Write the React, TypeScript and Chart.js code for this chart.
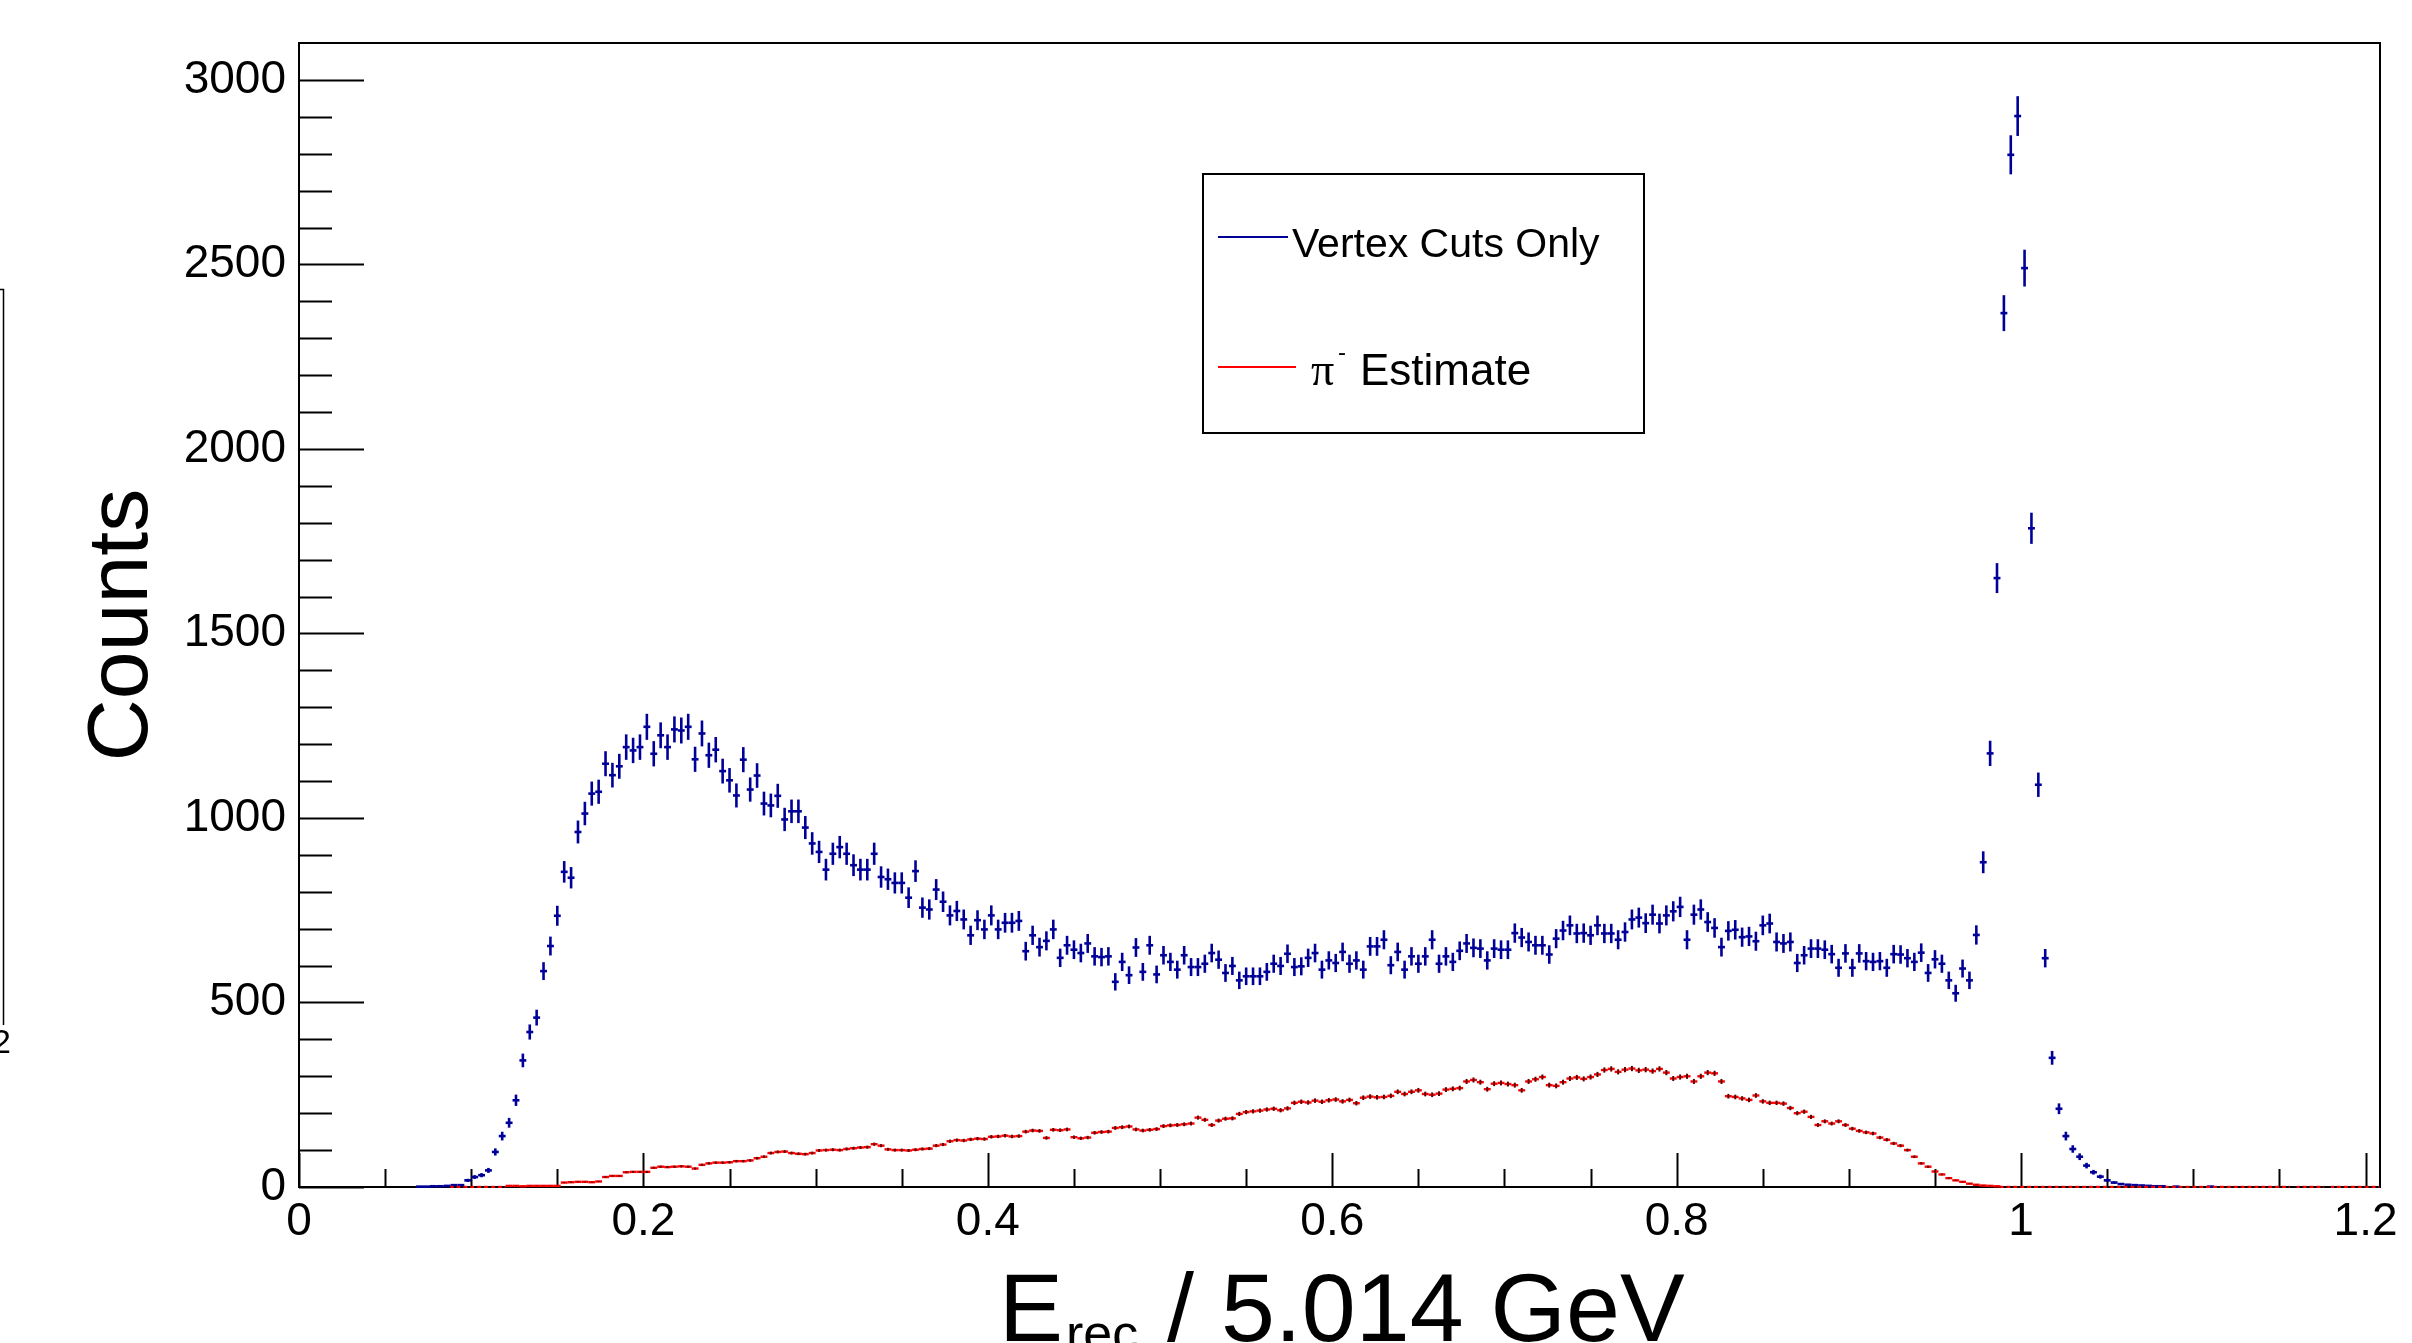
import React, { useEffect, useRef } from "react";
import { Chart, registerables } from "chart.js";

Chart.register(...registerables);

// ---------------- data ----------------
const BIN_WIDTH = 0.004;

// "Vertex Cuts Only" counts, bins starting at bin index 17 (x = 0.068)
const BLUE_FIRST_BIN = 17;
const BLUE_COUNTS: (number | null)[] = [
  1, 1, 2, 2, 3, 5, 5, 18, 27, 32, 45, 95, 138, 174, 235, 343, 420, 459, 585, 653,
  735, 854, 838, 962, 1012, 1066, 1071, 1147, 1116, 1140, 1192, 1183, 1192, 1247, 1174, 1224, 1192, 1240, 1237, 1247,
  1159, 1229, 1170, 1185, 1127, 1102, 1061, 1158, 1077, 1115, 1039, 1034, 1060, 996, 1018, 1018, 974, 931, 908, 860,
  903, 921, 903, 872, 860, 860, 903, 840, 834, 824, 824, 784, 856, 757, 752, 806, 773, 736, 748, 725,
  682, 723, 698, 736, 698, 716, 716, 721, 639, 682, 650, 667, 698, 621, 655, 643, 634, 660, 625, 623,
  625, 556, 610, 574, 649, 583, 655, 576, 628, 610, 589, 628, 596, 596, 605, 634, 616, 580, 599, 560,
  571, 571, 571, 583, 605, 599, 632, 596,
  // bin 145 ->
  598, 621, 634, 589, 614, 607, 637, 605, 614, 589, 652, 652, 670, 601, 637, 589, 625, 605, 625, 670,
  605, 625, 610, 640, 660, 648, 646, 614, 646, 643, 643, 688, 676, 664, 655, 655, 630, 673, 695, 709,
  687, 688, 682, 709, 687, 687, 670, 691, 725, 730, 715, 738, 714, 736, 747, 759, 670, 738, 752, 718,
  702, 650, 694, 697, 677, 679, 666, 709, 714, 664, 660, 664, 607, 628, 646, 646, 643, 631, 594, 633,
  594, 633, 612, 610, 612, 594, 631,
  // bin 232 ->
  630, 620, 610, 635, 580, 617, 605, 560, 525, 592, 560, 683, 880, 1175, 1650, 2368, 2797, 2902, 2490, 1785,
  1090, 620, 350, 212, 138, 103, 82, 58, 40, 28, 18, 12, 8, 6, 5, 4, 3, 2, 2, null,
  1, null, null, null, null, 1,
];

// "pi- Estimate" counts, bins starting at bin index 22 (x = 0.088)
const RED_FIRST_BIN = 22;
const RED_COUNTS: (number | null)[] = [
  0, 0, 0, 0, 0, 0, 0, 0, 3, 3, 2, 3, 3, 3, 3, 3, 12, 13, 14, 14,
  13, 15, 27, 30, 30, 40, 41, 41, 41, 52, 55, 54, 55, 56, 55, 50, 60, 64, 66, 66,
  67, 70, 70, 72, 78, 82, 92, 95, 96, 92, 90, 89, 92, 99, 100, 101, 100, 103, 105, 107,
  108, 116, 112, 102, 100, 100, 99, 101, 103, 104, 112, 115, 124, 127, 126, 129, 131, 130, 136, 137,
  139, 137, 138, 150, 153, 152, 133, 155, 154, 156, 135, 132, 134, 147, 149, 150, 160, 162, 164, 156,
  153, 155, 157, 165, 167, 168, 170, 172, 188, 182, 168, 180, 185, 186, 198, 203, 205, 207, 210, 212,
  208, 213, 228, 231, 229, 234, 231, 235, 237, 232, 236, 227, 242, 245, 243, 244, 247, 258, 252, 258,
  262, 252, 250, 253, 264, 266, 268, 286, 290, 284, 265, 280, 282, 279, 276, 262, 286, 292, 298, 276,
  274, 284, 294, 297, 293, 298, 305, 317, 320, 312, 318, 321, 316, 318, 314, 320, 310, 294, 298, 300,
  286, 300, 310, 308, 286, 246, 244, 240, 236, 248, 232, 228, 228, 226, 214, 200, 204, 190, 168, 178,
  172, 178, 168, 158, 152, 148, 145, 134, 128, 118, 112, 100, 82, 64, 55, 42, 34, 24, 18, 14,
  9, 6, 4, 3, 2, 0, 0, 0, 0, 0, 0, 0, 0, 0, 0, 0, 0, 0, 0, 0,
  0, 0, 0, 0, 0, 0, 0, 0, 0, 0, 0, 0, 0, 0, 0, 0, 0, 0, 0, 0,
  0, 0, 0, 0, 0, 0, 0, null, 0, 0, 0, 0, null, 0, 0, 0, 0, 0, 0, 0,
];

const SERIES_LABELS = ["Vertex Cuts Only", "Estimate"];
const SERIES_COLORS = ["#000099", "#ff0000"];
const RED_ERROR_COLOR = "#5a0000";
const RED_ERROR_SCALE = 0.4;

const X_TICKS = [0, 0.2, 0.4, 0.6, 0.8, 1, 1.2];
const X_TICK_LABELS = ["0", "0.2", "0.4", "0.6", "0.8", "1", "1.2"];
const Y_TICKS = [0, 500, 1000, 1500, 2000, 2500, 3000];
const Y_TICK_LABELS = ["0", "500", "1000", "1500", "2000", "2500", "3000"];
const X_MINOR_STEP = 0.05;
const Y_MINOR_STEP = 100;
const X_MIN = 0;
const X_MAX = 1.2084;
const Y_MIN = 0;
const Y_MAX = 3100;

const FONT = '"Liberation Sans", Arial, Helvetica, sans-serif';

function toPoints(first: number, counts: (number | null)[]) {
  const pts: { x: number; y: number }[] = [];
  counts.forEach((c, i) => {
    if (c === null) return;
    pts.push({ x: (first + i + 0.5) * BIN_WIDTH, y: c });
  });
  return pts;
}

// ---------------- plugins ----------------
const framePlugin = {
  id: "rootFrame",
  beforeDatasetsDraw(chart: any) {
    const { ctx, chartArea: a, scales } = chart;
    const xs = scales.x;
    const ys = scales.y;
    ctx.save();
    ctx.strokeStyle = "#000";
    ctx.lineWidth = 2;
    const nx = Math.round((X_MAX - X_MIN) / X_MINOR_STEP);
    for (let i = 0; i <= nx; i++) {
      const v = X_MIN + i * X_MINOR_STEP;
      if (v > X_MAX) break;
      const isMajor = X_TICKS.some((t) => Math.abs(t - v) < 1e-6);
      const px = Math.round(xs.getPixelForValue(v)) + 0.5;
      const len = isMajor ? 34 : 18;
      ctx.beginPath();
      ctx.moveTo(px, a.bottom);
      ctx.lineTo(px, a.bottom - len);
      ctx.stroke();
    }
    const ny = Math.round((Y_MAX - Y_MIN) / Y_MINOR_STEP);
    for (let i = 0; i < ny; i++) {
      const v = Y_MIN + i * Y_MINOR_STEP;
      const isMajor = Y_TICKS.includes(v);
      const py = Math.round(ys.getPixelForValue(v)) + 0.5;
      const len = isMajor ? 65 : 33;
      ctx.beginPath();
      ctx.moveTo(a.left, py);
      ctx.lineTo(a.left + len, py);
      ctx.stroke();
    }
    ctx.strokeRect(a.left, a.top, a.right - a.left, a.bottom - a.top);
    ctx.restore();
  },
};

const errorBarPlugin = {
  id: "rootErrors",
  afterDatasetsDraw(chart: any) {
    const { ctx, chartArea: a, scales } = chart;
    const xs = scales.x;
    const ys = scales.y;
    ctx.save();
    ctx.beginPath();
    ctx.rect(a.left, a.top - 1, a.right - a.left, a.bottom - a.top + 2);
    ctx.clip();
    chart.data.datasets.forEach((ds: any, di: number) => {
      const isBlue = di === 0;
      ds.data.forEach((p: { x: number; y: number }) => {
        const xl = xs.getPixelForValue(p.x - BIN_WIDTH / 2);
        const xr = xs.getPixelForValue(p.x + BIN_WIDTH / 2);
        const xc = xs.getPixelForValue(p.x);
        const yc = ys.getPixelForValue(p.y);
        const err = isBlue ? Math.sqrt(p.y) : RED_ERROR_SCALE * Math.sqrt(p.y);
        ctx.strokeStyle = ds.borderColor;
        ctx.lineWidth = isBlue ? 2.6 : 2.4;
        ctx.setLineDash(p.y === 0 ? [3, 3] : []);
        ctx.beginPath();
        ctx.moveTo(xl, yc);
        ctx.lineTo(xr, yc);
        ctx.stroke();
        ctx.setLineDash([]);
        if (err > 0) {
          ctx.strokeStyle = isBlue ? ds.borderColor : RED_ERROR_COLOR;
          ctx.lineWidth = isBlue ? 2.6 : 2;
          ctx.beginPath();
          ctx.moveTo(xc, ys.getPixelForValue(p.y + err));
          ctx.lineTo(xc, ys.getPixelForValue(Math.max(0, p.y - err)));
          ctx.stroke();
        }
      });
    });
    ctx.restore();
  },
};

const decorPlugin = {
  id: "rootDecor",
  afterDraw(chart: any) {
    const { ctx } = chart;
    ctx.save();
    ctx.fillStyle = "#000";
    ctx.strokeStyle = "#000";
    ctx.textAlign = "left";
    ctx.textBaseline = "alphabetic";

    // y-axis title
    ctx.save();
    ctx.translate(147, 625);
    ctx.rotate(-Math.PI / 2);
    ctx.textAlign = "center";
    ctx.font = `86px ${FONT}`;
    ctx.fillText("Counts", 0, 0);
    ctx.restore();

    // x-axis title: E_rec / 5.014 GeV
    ctx.font = `96px ${FONT}`;
    ctx.fillText("E", 999, 1341);
    ctx.font = `52px ${FONT}`;
    ctx.fillText("rec", 1066, 1351);
    ctx.font = `97px ${FONT}`;
    ctx.fillText("/ 5.014 GeV", 1167, 1341);

    // legend box
    ctx.lineWidth = 2;
    ctx.strokeRect(1203, 174, 441, 259);
    ctx.strokeStyle = SERIES_COLORS[0];
    ctx.beginPath();
    ctx.moveTo(1218, 237);
    ctx.lineTo(1288, 237);
    ctx.stroke();
    ctx.strokeStyle = SERIES_COLORS[1];
    ctx.beginPath();
    ctx.moveTo(1218, 367);
    ctx.lineTo(1296, 367);
    ctx.stroke();
    ctx.fillStyle = "#000";
    ctx.font = `41px ${FONT}`;
    ctx.fillText(SERIES_LABELS[0], 1292, 257);
    ctx.font = `46px "Liberation Serif", "DejaVu Serif", serif`;
    ctx.fillText("π", 1311, 385);
    ctx.font = `24px ${FONT}`;
    ctx.fillText("-", 1338, 360);
    ctx.font = `44px ${FONT}`;
    ctx.fillText(SERIES_LABELS[1], 1360, 385);

    // remnant of neighbouring pad at the far left
    ctx.strokeStyle = "#000";
    ctx.lineWidth = 1.5;
    ctx.beginPath();
    ctx.moveTo(0, 289.5);
    ctx.lineTo(3.5, 289.5);
    ctx.lineTo(3.5, 1025);
    ctx.stroke();
    ctx.font = `34px ${FONT}`;
    ctx.textAlign = "right";
    ctx.fillText("1.2", 11, 1053);
    ctx.restore();
  },
};

// ---------------- component ----------------
export default function App() {
  const canvasRef = useRef<HTMLCanvasElement | null>(null);

  useEffect(() => {
    const canvas = canvasRef.current;
    if (!canvas) return;
    const chart = new Chart(canvas, {
      type: "scatter",
      data: {
        datasets: [
          {
            label: SERIES_LABELS[0],
            data: toPoints(BLUE_FIRST_BIN, BLUE_COUNTS),
            borderColor: SERIES_COLORS[0],
            backgroundColor: SERIES_COLORS[0],
            pointRadius: 0,
            showLine: false,
          },
          {
            label: SERIES_LABELS[1],
            data: toPoints(RED_FIRST_BIN, RED_COUNTS),
            borderColor: SERIES_COLORS[1],
            backgroundColor: SERIES_COLORS[1],
            pointRadius: 0,
            showLine: false,
          },
        ],
      },
      options: {
        responsive: false,
        animation: false,
        events: [],
        layout: { padding: { left: 0, top: 43, right: 32, bottom: 0 } },
        plugins: {
          legend: { display: false },
          tooltip: { enabled: false },
        },
        scales: {
          x: {
            type: "linear",
            min: X_MIN,
            max: X_MAX,
            grid: { display: false, drawTicks: false },
            border: { display: false },
            afterBuildTicks: (s: any) => {
              s.ticks = X_TICKS.map((v) => ({ value: v }));
            },
            afterFit: (s: any) => {
              s.height = 156;
            },
            ticks: {
              padding: 8,
              maxRotation: 0,
              autoSkip: false,
              color: "#000",
              font: { family: FONT, size: 46 },
              callback: (_v: any, i: number) => X_TICK_LABELS[i],
            },
          },
          y: {
            type: "linear",
            min: Y_MIN,
            max: Y_MAX,
            grid: { display: false, drawTicks: false },
            border: { display: false },
            afterBuildTicks: (s: any) => {
              s.ticks = Y_TICKS.map((v) => ({ value: v }));
            },
            afterFit: (s: any) => {
              s.width = 299;
            },
            ticks: {
              padding: 13,
              autoSkip: false,
              color: "#000",
              font: { family: FONT, size: 46 },
              callback: (_v: any, i: number) => Y_TICK_LABELS[i],
            },
          },
        },
      },
      plugins: [framePlugin, errorBarPlugin, decorPlugin],
    });
    return () => chart.destroy();
  }, []);

  return (
    <div
      style={{
        position: "fixed",
        left: 0,
        top: 0,
        width: 2412,
        height: 1343,
        background: "#ffffff",
        overflow: "hidden",
      }}
    >
      <canvas ref={canvasRef} width={2412} height={1343} style={{ display: "block" }} />
    </div>
  );
}
